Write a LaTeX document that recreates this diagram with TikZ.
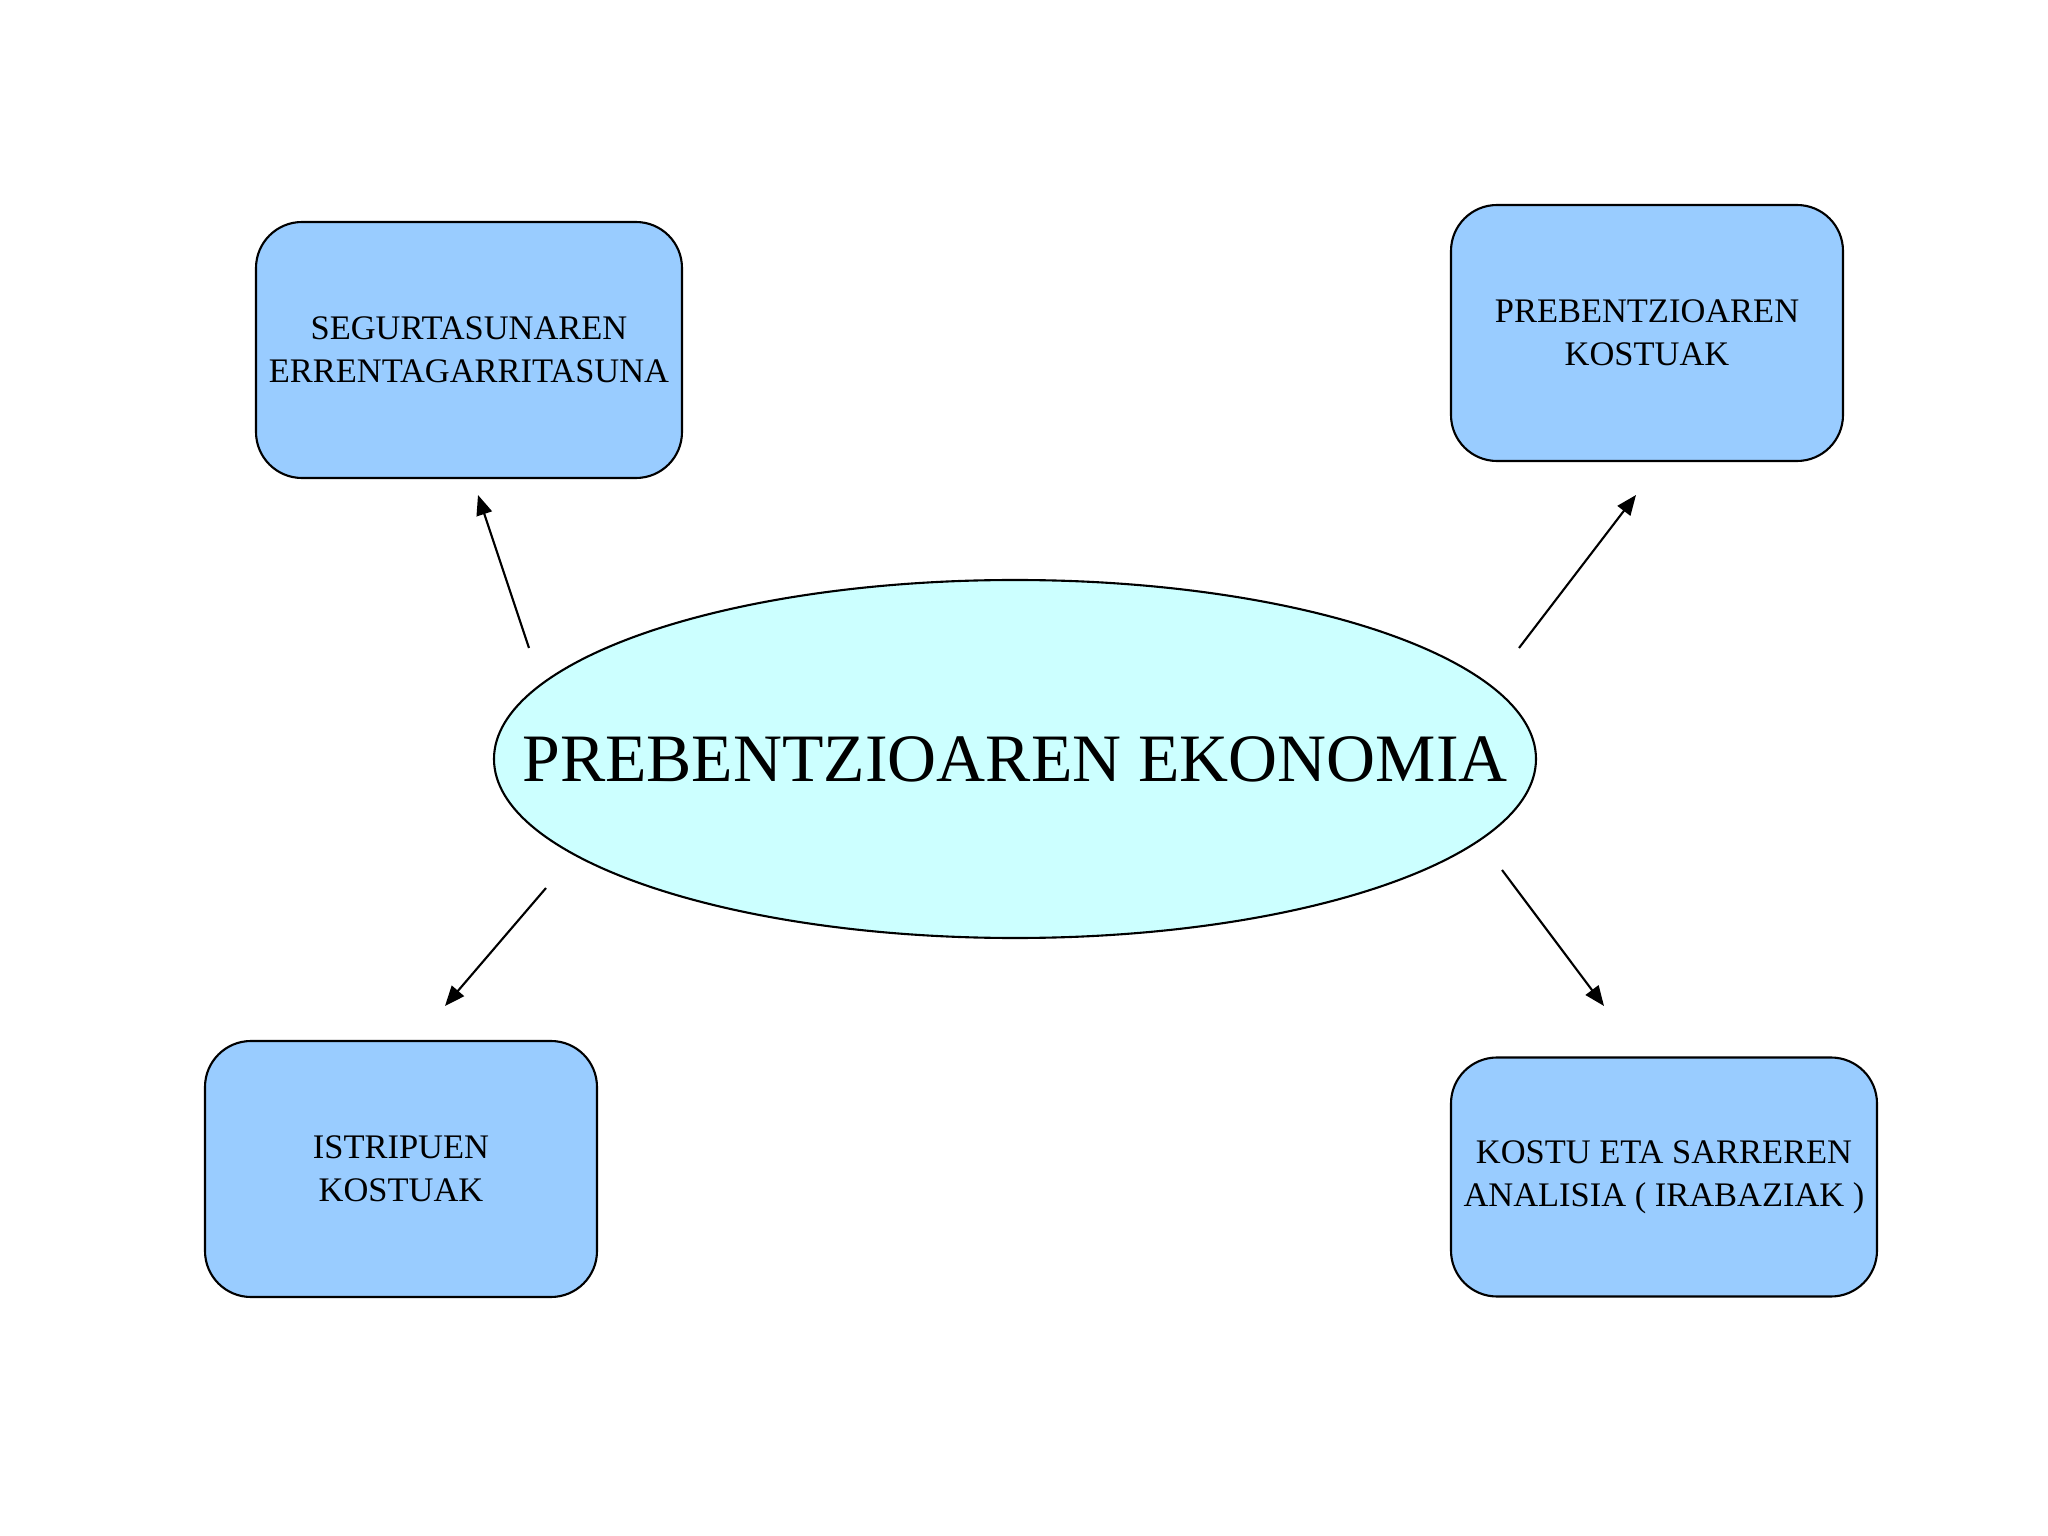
\documentclass[tikz,border=0pt]{standalone}
\usepackage{fontspec}
\setmainfont{Liberation Serif}
\usetikzlibrary{arrows.meta,shapes.geometric}
\definecolor{boxblue}{HTML}{99CCFF}
\definecolor{ovalcyan}{HTML}{CCFFFF}
\begin{document}
\begin{tikzpicture}[
	    costbox/.style={draw, line width=0.6pt, fill=boxblue, rounded corners=0.46cm, align=center, font=\fontsize{9.8}{12.1}\selectfont, inner sep=0pt},
	    mainoval/.style={draw, line width=0.6pt, fill=ovalcyan, ellipse, inner sep=0pt, minimum width=10.42cm, minimum height=3.58cm, font=\fontsize{19.3}{23}\selectfont},
	    link/.style={-{Triangle[length=0.2cm,width=0.16cm]}, line width=0.6pt}
	    ]
	    
	    \useasboundingbox (0,0) rectangle (20.48,-15.36);
	    
	    \node [mainoval] (econ) at (10.15,-7.59) {\raisebox{-0.05cm}{\makebox[0pt]{PREBENTZIOAREN EKONOMIA}}};
	    
	    \node [costbox, minimum width=4.26cm, minimum height=2.56cm] (safety) at (4.69,-3.50) {SEGURTASUNAREN\\ERRENTAGARRITASUNA};
	    \node [costbox, minimum width=3.92cm, minimum height=2.56cm] (prevcost) at (16.47,-3.33) {PREBENTZIOAREN\\KOSTUAK};
	    \node [costbox, minimum width=3.92cm, minimum height=2.56cm] (accident) at (4.01,-11.69) {ISTRIPUEN\\KOSTUAK};
	    \node [costbox, minimum width=4.26cm, minimum height=2.39cm] (analysis) at (16.64,-11.77) {KOSTU ETA SARREREN\\ANALISIA ( IRABAZIAK )};
	    
	    \coordinate (safetyfrom) at (5.29,-6.48);
	    \coordinate (safetyto) at (4.78,-4.95);
	    \coordinate (prevfrom) at (15.19,-6.48);
	    \coordinate (prevto) at (16.36,-4.95);
	    \coordinate (accfrom) at (5.46,-8.88);
	    \coordinate (accto) at (4.45,-10.06);
	    \coordinate (anafrom) at (15.02,-8.70);
	    \coordinate (anato) at (16.04,-10.06);
	    
	    \draw [link] (safetyfrom) -- (safetyto);
	    \draw [link] (prevfrom) -- (prevto);
	    \draw [link] (accfrom) -- (accto);
	    \draw [link] (anafrom) -- (anato);
	    
	    \end{tikzpicture}
\end{document}
